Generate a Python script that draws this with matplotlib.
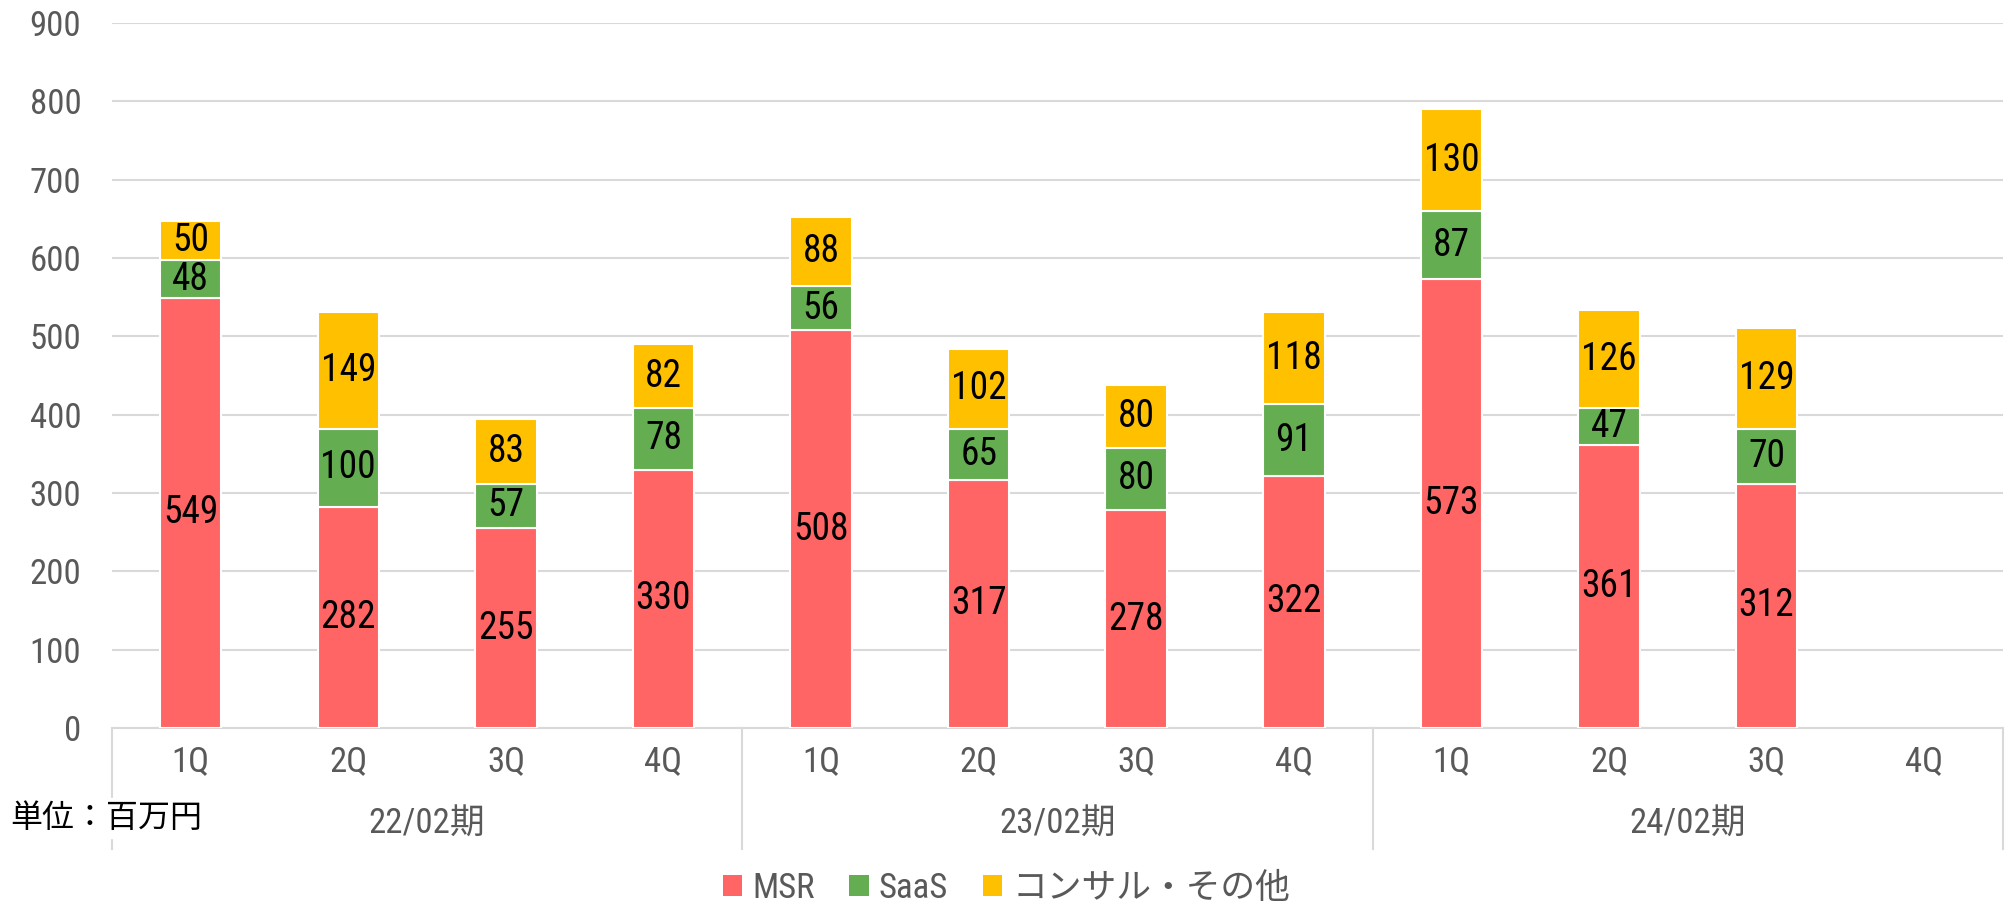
import matplotlib
matplotlib.use("Agg")
import matplotlib.pyplot as plt
from matplotlib import font_manager
from matplotlib.lines import Line2D
from matplotlib.patches import Patch
import matplotlib.transforms as mtransforms

# ---- data ----
periods = ["22/02期", "23/02期", "24/02期"]
quarters = ["1Q", "2Q", "3Q", "4Q"]
msr = [549, 282, 255, 330, 508, 317, 278, 322, 573, 361, 312, None]
saas = [48, 100, 57, 78, 56, 65, 80, 91, 87, 47, 70, None]
other = [50, 149, 83, 82, 88, 102, 80, 118, 130, 126, 129, None]
series_names = ["MSR", "SaaS", "コンサル・その他"]
colors = ["#FF6565", "#64AD50", "#FFC000"]
unit_label = "単位：百万円"

# ---- fonts ----
names = {f.name for f in font_manager.fontManager.ttflist}
cond = None
for cand in ["Roboto Condensed", "Open Sans Condensed", "Liberation Sans Narrow", "Noto Sans Condensed"]:
    if cand in names:
        cond = cand
        break
fam = ([cond] if cond else []) + ["Noto Sans CJK JP", "DejaVu Sans"]
plt.rcParams["font.family"] = fam

fig = plt.figure(figsize=(20.13, 9.10), dpi=100)
ax = fig.add_axes([0.0556, 0.2, 0.9394, 0.7747])

n = len(msr)
xs = list(range(n))
width = 0.39
bottoms = [0] * n
for vals, col, name in zip([msr, saas, other], colors, series_names):
    for i, v in enumerate(vals):
        if v is None:
            continue
        ax.bar(xs[i], v, width=width, bottom=bottoms[i], color=col,
               edgecolor="white", linewidth=1.5, zorder=3)
        ax.text(xs[i], bottoms[i] + v / 2, str(v), ha="center", va="center",
                fontsize=27, color="black", zorder=4)
        bottoms[i] += v

ax.set_xlim(-0.5, n - 0.5)
ax.set_ylim(0, 900)
ax.set_yticks(range(0, 901, 100))
ax.yaxis.grid(True, color="#D9D9D9", linewidth=1.5, zorder=0)
ax.set_axisbelow(True)
for s in ["left", "right", "top"]:
    ax.spines[s].set_visible(False)
ax.spines["bottom"].set_color("#D9D9D9")
ax.spines["bottom"].set_linewidth(1.5)
ax.tick_params(axis="y", length=0, pad=22, labelsize=25, labelcolor="#595959")
ax.set_xticks(xs)
ax.set_xticklabels(quarters * len(periods))
ax.tick_params(axis="x", length=0, pad=12, labelsize=25, labelcolor="#595959")

# group separators and labels
trans = mtransforms.blended_transform_factory(ax.transData, ax.transAxes)
for b in [-0.5, 3.5, 7.5, 11.5]:
    ax.add_line(Line2D([b, b], [0, -0.172], transform=trans, color="#D9D9D9",
                       linewidth=1.5, clip_on=False))
for gi, p in enumerate(periods):
    ax.text(gi * 4 + 1.5, -0.137, p, transform=trans, ha="center", va="center",
            fontsize=25, color="#595959")

fig.text(0.005, 0.101, unit_label, ha="left", va="center", fontsize=23,
         color="black", backgroundcolor="white", zorder=5)

handles = [Patch(facecolor=c, edgecolor="none") for c in colors]
leg = fig.legend(handles, series_names, loc="center", bbox_to_anchor=(0.5, 0.024),
                 ncol=3, frameon=False, fontsize=25, handlelength=0.55,
                 handleheight=0.55, handletextpad=0.3, columnspacing=1.0)
for t in leg.get_texts():
    t.set_color("#595959")

fig.savefig("out.png", dpi=100)
